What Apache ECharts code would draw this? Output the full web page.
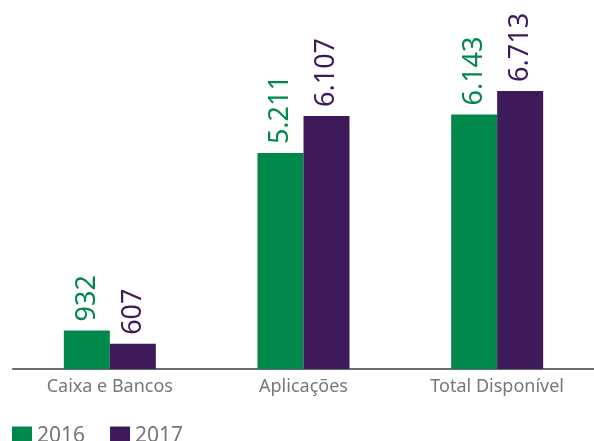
<!DOCTYPE html>
<html>
<head>
<meta charset="utf-8">
<script src="https://cdn.jsdelivr.net/npm/echarts@6/dist/echarts.min.js"></script>
<style>
  html, body { margin: 0; padding: 0; background: #fff; }
  #container { width: 594px; height: 441px; }
</style>
</head>
<body>
<div id="container"></div>
<script>
var categories = ['Caixa e Bancos', 'Aplicações', 'Total Disponível'];
var seriesNames = ['2016', '2017'];
var values2016 = [932, 5211, 6143];
var values2017 = [607, 6107, 6713];

var green = '#00884B';
var purple = '#3F1A5B';

function formatNumber(v) {
    return String(v).replace(/\B(?=(\d{3})+(?!\d))/g, '.');
}

function makeSeries(name, data, color) {
    return {
        name: name,
        type: 'bar',
        data: data,
        barWidth: 46,
        barGap: '0%',
        itemStyle: { color: color },
        label: {
            show: true,
            position: 'top',
            rotate: 90,
            align: 'left',
            verticalAlign: 'middle',
            distance: 9,
            color: color,
            fontFamily: 'Noto Sans',
            fontSize: 27,
            formatter: function (p) { return formatNumber(p.value); }
        }
    };
}

var chartDom = document.getElementById('container');
var myChart = echarts.init(chartDom, null, { renderer: 'canvas' });

var option = {
    animation: false,
    grid: { left: 13, right: -1, top: 79, bottom: 72 },
    legend: {
        data: seriesNames,
        left: 7,
        top: 421,
        itemWidth: 20,
        itemHeight: 20,
        itemGap: 25,
        icon: 'rect',
        textStyle: {
            color: '#777',
            fontFamily: 'Noto Sans',
            fontSize: 21,
            lineHeight: 20
        }
    },
    xAxis: {
        type: 'category',
        data: categories,
        axisLine: { lineStyle: { color: '#6d6d6d', width: 2 } },
        axisTick: { show: false },
        axisLabel: {
            color: '#777',
            fontFamily: 'Noto Sans',
            fontSize: 18,
            margin: 9
        }
    },
    yAxis: {
        type: 'value',
        min: 0,
        max: 7000,
        show: false
    },
    series: [
        makeSeries(seriesNames[0], values2016, green),
        makeSeries(seriesNames[1], values2017, purple)
    ]
};

myChart.setOption(option);
window.addEventListener('resize', myChart.resize);
</script>
</body>
</html>
